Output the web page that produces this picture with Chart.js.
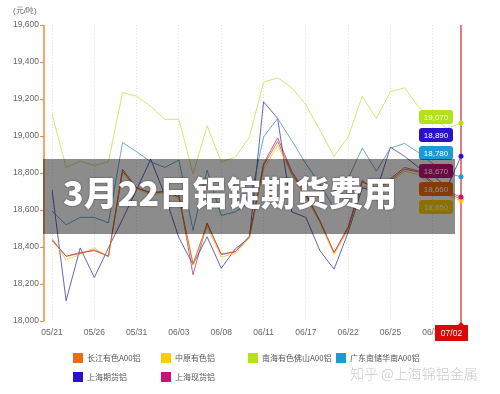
<!DOCTYPE html>
<html><head><meta charset="utf-8">
<script src="https://cdn.jsdelivr.net/npm/chart.js@4/dist/chart.umd.min.js"></script>
<style>
html,body{margin:0;padding:0;background:#fff;}
#wrap{position:relative;width:500px;height:394px;overflow:hidden;font-family:"Liberation Sans",Arial,sans-serif;}
#c{position:absolute;left:0;top:0;}
#unit{position:absolute;left:13px;top:5px;font-size:8px;color:#666;}
#band{position:absolute;left:43px;top:159px;width:412px;height:75px;background:rgba(0,0,0,0.45);}
#title{position:absolute;left:63px;top:171px;font-family:"Noto Sans CJK SC",sans-serif;font-weight:900;font-size:34px;line-height:42px;color:#fff;white-space:nowrap;text-shadow:0 0 2px rgba(0,0,0,0.6);}
.lg{position:absolute;font-size:8px;color:#555;white-space:nowrap;line-height:10px;font-family:"Noto Sans CJK SC","Liberation Sans",sans-serif;}
.lg i{position:absolute;left:-14px;top:0;width:10px;height:10px;}
#wm{position:absolute;left:350px;top:364px;font-size:14px;color:#cacaca;font-family:"Noto Sans CJK SC",sans-serif;font-weight:300;white-space:nowrap;line-height:18px;}
</style></head>
<body><div id="wrap">
<canvas id="c" width="500" height="394"></canvas>
<div id="unit">(元/吨)</div>
<div id="legend"></div>
<div id="band"></div>
<div id="title">3月22日铝锭期货费用</div>
<div id="wm">知乎 @上海锦铝金属</div>
</div>
<script>
const dates = ["05/21","05/22","05/24","05/26","05/28","05/29","05/31","06/01","06/02","06/03","06/05","06/06","06/08","06/09","06/10","06/11","06/13","06/15","06/17","06/19","06/20","06/22","06/23","06/24","06/25","06/27","06/28","06/30","07/01","07/02"];
const yTicks = [18000,18200,18400,18600,18800,19000,19200,19400,19600];
const seriesNames = ["长江有色A00铝","中原有色铝","南海有色佛山A00铝","广东南储华南A00铝","上海期货铝","上海现货铝"];
const seriesColors = ["#f26a10","#ffcc00","#b4e01e","#1f98d4","#2a12c8","#c8127a"];
const lineColors = ["rgba(200,90,40,0.8)","rgba(245,190,40,0.75)","rgba(200,222,80,0.8)","rgba(70,150,190,0.8)","rgba(70,60,170,0.8)","rgba(190,40,100,0.75)"];

const changjiang = [18440,18350,18365,18385,18350,18810,18720,18690,18700,18670,18310,18525,18360,18375,18460,18840,18970,18800,18680,18540,18370,18500,18750,18720,18760,18820,18805,18740,18690,18660];
const zhongyuan  = [18450,18330,18360,18395,18345,18800,18715,18680,18695,18660,18300,18510,18345,18365,18450,18820,18950,18790,18670,18530,18360,18490,18730,18710,18750,18810,18790,18730,18680,18650];
const nanhai     = [19120,18830,18865,18840,18860,19235,19215,19160,19090,19090,18795,19055,18860,18885,18995,19290,19315,19260,19170,19030,18890,18995,19215,19095,19240,19260,19155,19100,19040,19070];
const guangdong  = [18595,18520,18560,18560,18530,18965,18915,18860,18830,18870,18490,18815,18570,18590,18640,18995,19095,18975,18850,18740,18610,18770,18935,18810,18935,18960,18910,18850,18800,18780];
const shfutures  = [18710,18110,18395,18235,18395,18550,18710,18875,18680,18450,18305,18455,18285,18390,18450,19185,19095,18590,18560,18380,18280,18480,18720,18700,18940,18890,18830,18790,18720,18890];
const shspot     = [18435,18350,18370,18380,18350,18820,18720,18695,18700,18680,18250,18530,18360,18375,18455,18850,18990,18810,18690,18540,18370,18510,18760,18700,18770,18830,18810,18750,18700,18670];
const seriesData = [changjiang,zhongyuan,nanhai,guangdong,shfutures,shspot];

// legend
const legendPos = [[87,353],[175,353],[262,353],[350,353],[87,372],[175,372]];
const lgEl = document.getElementById('legend');
seriesNames.forEach((n,i)=>{
  const d=document.createElement('div');d.className='lg';
  d.style.left=legendPos[i][0]+'px';d.style.top=legendPos[i][1]+'px';
  d.innerHTML='<i style="background:'+seriesColors[i]+'"></i>'+n;
  lgEl.appendChild(d);
});

const last = dates.length-1;
const fmt = v => v.toLocaleString('en-US');

const deco = {
  id:'deco',
  afterDatasetsDraw(chart){
    const ctx=chart.ctx, ca=chart.chartArea, xs=chart.scales.x, ys=chart.scales.y;
    ctx.save();
    ctx.strokeStyle='#f08a3c';ctx.lineWidth=1.5;
    ctx.beginPath();ctx.moveTo(44,ca.top);ctx.lineTo(44,ca.bottom);ctx.stroke();
    ctx.lineWidth=1;
    yTicks.forEach(t=>{const y=Math.round(ys.getPixelForValue(t))+0.5;ctx.beginPath();ctx.moveTo(40,y);ctx.lineTo(44,y);ctx.stroke();});
    const cx=xs.getPixelForValue(last);
    ctx.strokeStyle='rgba(215,50,50,0.85)';ctx.lineWidth=1.5;
    ctx.beginPath();ctx.moveTo(cx,ca.top);ctx.lineTo(cx,ca.bottom+4);ctx.stroke();
    seriesData.forEach((d,i)=>{
      const y=ys.getPixelForValue(d[last]);
      ctx.fillStyle=seriesColors[i];ctx.beginPath();ctx.arc(cx,y,2.5,0,Math.PI*2);ctx.fill();
    });
    const order=seriesData.map((d,i)=>i).sort((a,b)=>seriesData[b][last]-seriesData[a][last]);
    const topY=ys.getPixelForValue(seriesData[order[0]][last])-13;
    ctx.font='8px "Liberation Sans", Arial, sans-serif';ctx.textAlign='center';ctx.textBaseline='middle';
    order.forEach((si,k)=>{
      const y=topY+k*18, x=419, w=34, h=14, r=3;
      ctx.fillStyle=seriesColors[si];
      ctx.beginPath();ctx.roundRect(x,y,w,h,r);ctx.fill();
      ctx.fillStyle='#fff';ctx.fillText(fmt(seriesData[si][last]),x+w/2,y+h/2+0.5);
    });
    ctx.restore();
  },
  afterDraw(chart){
    const ctx=chart.ctx, ca=chart.chartArea, xs=chart.scales.x;
    const cx=xs.getPixelForValue(last);
    ctx.save();
    const bx=cx-26, by=ca.bottom+4, bw=33, bh=16;
    ctx.fillStyle='#d60a0a';
    ctx.fillRect(bx,by,bw,bh);
    ctx.beginPath();ctx.moveTo(cx-3,by);ctx.lineTo(cx,by-3);ctx.lineTo(cx+3,by);ctx.fill();
    ctx.fillStyle='#fff';ctx.font='8.5px "Liberation Sans", Arial, sans-serif';ctx.textAlign='center';ctx.textBaseline='middle';
    ctx.fillText(dates[last],bx+bw/2,by+bh/2+0.5);
    ctx.restore();
  }
};

new Chart(document.getElementById('c'),{
  type:'line',
  data:{labels:dates,datasets:seriesData.map((d,i)=>({
    label:seriesNames[i],data:d,borderColor:lineColors[i],borderWidth:1,
    pointRadius:0,tension:0,fill:false
  }))},
  options:{
    responsive:false,animation:false,
    layout:{padding:{top:25,right:39,left:0,bottom:0}},
    plugins:{legend:{display:false},tooltip:{enabled:false}},
    scales:{
      x:{
        afterFit(s){s.height=73;},
        border:{display:false,dash:[1,2]},
        grid:{drawTicks:false,color:c=>(c.index%3===0&&c.index<last)?'#e4e4e4':'rgba(0,0,0,0)'},
        ticks:{autoSkip:false,maxRotation:0,padding:7,color:'#666',font:{family:'"Liberation Sans", Arial, sans-serif',size:8.5},
          callback:(v,i)=>(i%3===0&&i<last)?dates[i]:''}
      },
      y:{
        min:18000,max:19600,
        afterFit(s){s.width=52;},
        afterBuildTicks(s){s.ticks=yTicks.map(v=>({value:v}));},
        border:{display:false},
        grid:{display:false,drawTicks:false},
        ticks:{padding:13,color:'#666',font:{family:'"Liberation Sans", Arial, sans-serif',size:8.5},callback:v=>fmt(v)}
      }
    }
  },
  plugins:[deco]
});
</script>
</body></html>
